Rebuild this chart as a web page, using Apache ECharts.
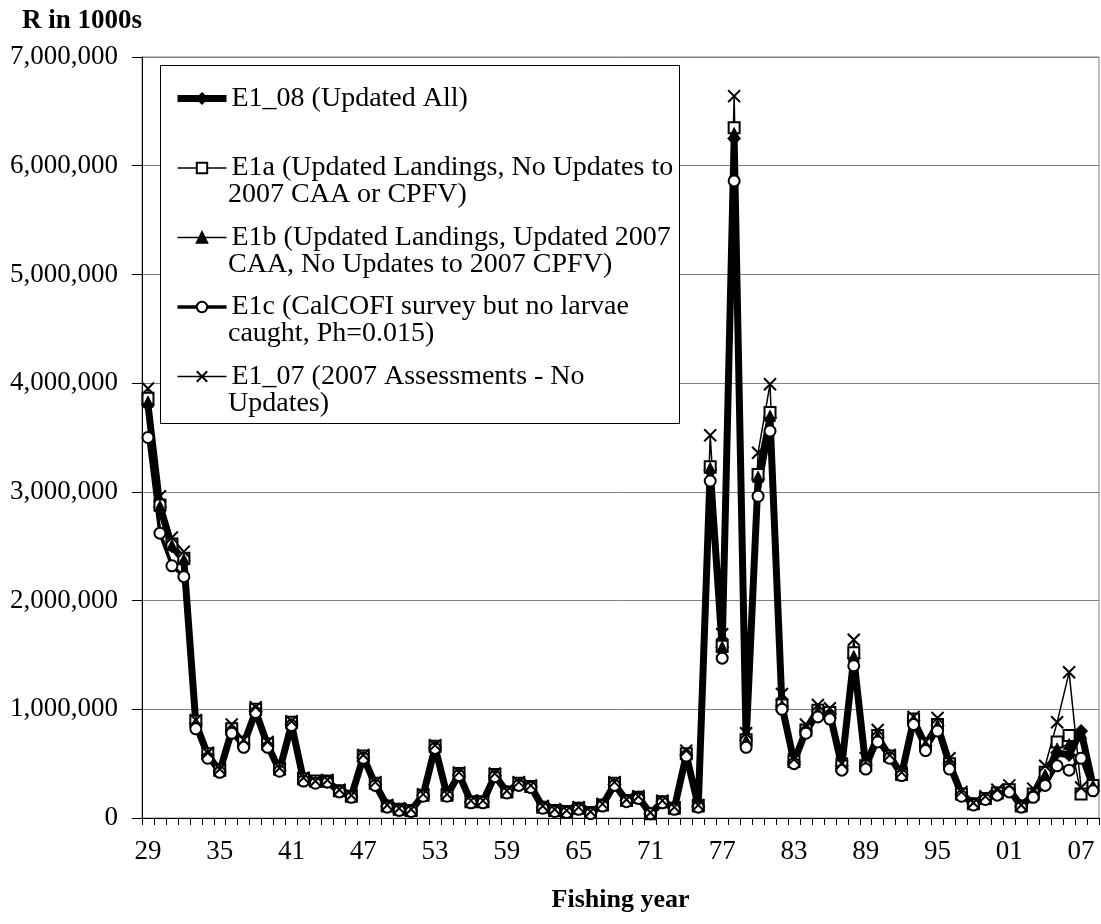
<!DOCTYPE html>
<html>
<head>
<meta charset="utf-8">
<title>R in 1000s</title>
<script src="https://cdn.jsdelivr.net/npm/echarts@6/dist/echarts.min.js"></script>
<style>
  html, body { margin: 0; padding: 0; background: #fff; }
  #chart { width: 1101px; height: 924px; }
</style>
</head>
<body>
<div id="chart"></div>
<script>
// fishing years 1929 - 2008 (axis labels are 2 digit years)
var years = ['29','30','31','32','33','34','35','36','37','38',
             '39','40','41','42','43','44','45','46','47','48',
             '49','50','51','52','53','54','55','56','57','58',
             '59','60','61','62','63','64','65','66','67','68',
             '69','70','71','72','73','74','75','76','77','78',
             '79','80','81','82','83','84','85','86','87','88',
             '89','90','91','92','93','94','95','96','97','98',
             '99','00','01','02','03','04','05','06','07','08'];

// recruitment, R in 1000s
var e1_08 = [3800000,2860000,2500000,2370000,870000,580000,430000,800000,680000,980000,
             670000,440000,860000,350000,330000,330000,250000,200000,560000,310000,
             110000,80000,70000,210000,650000,210000,400000,150000,150000,390000,
             240000,310000,290000,100000,70000,60000,90000,50000,120000,310000,
             160000,190000,40000,150000,90000,580000,110000,3200000,1570000,6250000,
             710000,3120000,3680000,1030000,520000,800000,980000,960000,480000,1470000,
             480000,740000,570000,400000,900000,670000,850000,500000,220000,130000,
             180000,230000,260000,110000,210000,380000,600000,580000,800000,300000];

var e1a = [3860000,2880000,2520000,2390000,890000,590000,440000,820000,700000,1000000,
           680000,450000,880000,360000,340000,340000,250000,200000,570000,320000,
           110000,80000,70000,210000,660000,210000,410000,150000,150000,400000,
           240000,320000,290000,100000,70000,60000,90000,50000,120000,320000,
           160000,190000,40000,150000,90000,590000,110000,3230000,1580000,6350000,
           720000,3160000,3730000,1040000,520000,810000,990000,970000,480000,1520000,
           480000,760000,570000,400000,910000,680000,860000,500000,220000,130000,
           180000,230000,260000,110000,220000,420000,700000,760000,220000,300000];

var e1b = [3830000,2870000,2510000,2380000,880000,585000,435000,810000,690000,990000,
           675000,445000,870000,355000,335000,335000,250000,200000,565000,315000,
           110000,80000,70000,210000,655000,210000,405000,150000,150000,395000,
           240000,315000,290000,100000,70000,60000,90000,50000,120000,315000,
           160000,190000,40000,150000,90000,585000,110000,3220000,1575000,6300000,
           715000,3140000,3700000,1035000,520000,805000,985000,965000,480000,1490000,
           480000,750000,570000,400000,905000,675000,855000,500000,220000,130000,
           180000,230000,260000,110000,210000,400000,640000,680000,780000,300000];

var e1c = [3500000,2620000,2320000,2220000,820000,550000,420000,780000,650000,970000,
           650000,430000,850000,340000,320000,330000,240000,190000,550000,300000,
           100000,70000,60000,200000,640000,200000,390000,140000,140000,380000,
           230000,300000,280000,90000,60000,50000,80000,40000,110000,300000,
           150000,180000,40000,140000,80000,570000,100000,3100000,1470000,5860000,
           650000,2960000,3560000,1000000,500000,780000,930000,910000,440000,1400000,
           450000,700000,550000,390000,860000,620000,800000,450000,200000,120000,
           170000,210000,240000,100000,190000,300000,480000,440000,550000,250000];

var e1_07 = [3950000,2960000,2580000,2450000,900000,600000,450000,860000,720000,1020000,
             700000,460000,890000,370000,340000,350000,260000,210000,580000,330000,
             120000,90000,80000,220000,670000,220000,420000,160000,160000,410000,
             250000,330000,300000,110000,80000,70000,100000,60000,130000,330000,
             170000,200000,50000,160000,100000,620000,120000,3520000,1690000,6640000,
             780000,3360000,3990000,1140000,540000,860000,1040000,1010000,500000,1640000,
             550000,810000,580000,420000,930000,700000,920000,550000,240000,140000,
             200000,260000,300000,120000,270000,480000,880000,1340000,280000,null];

var names = ['E1_08 (Updated All)',
             'E1a (Updated Landings, No Updates to',
             'E1b (Updated Landings, Updated 2007',
             'E1c (CalCOFI survey but no larvae',
             'E1_07 (2007 Assessments - No'];
// second lines of the legend entries
var legendLine2 = ['2007 CAA or CPFV)', 'CAA, No Updates to 2007 CPFV)',
                   'caught, Ph=0.015)', 'Updates)'];

var FONT = '"Liberation Serif", "Times New Roman", serif';
var xMark = 'path://M0 0L10 10M10 0L0 10';

function commas(v) {
  return String(v).replace(/\B(?=(\d{3})+(?!\d))/g, ',');
}

var chart = echarts.init(document.getElementById('chart'));

var graphics = [{
  type: 'rect', z: 5,
  shape: { x: 160.5, y: 65.5, width: 519, height: 358 },
  style: { fill: '#fff', stroke: '#000', lineWidth: 1 }
}];
var line2Y = [195, 264.5, 334, 403.5];
legendLine2.forEach(function (t, i) {
  graphics.push({
    type: 'text', z: 6, x: 228, y: line2Y[i],
    style: { text: t, font: '28px ' + FONT, fill: '#000', verticalAlign: 'middle' }
  });
});

chart.setOption({
  animation: false,
  backgroundColor: '#fff',
  title: {
    text: 'R in 1000s',
    left: 17, top: 3,
    textStyle: { fontFamily: FONT, fontSize: 27, fontWeight: 'bold', color: '#000' }
  },
  grid: { left: 142, right: 2, top: 57, bottom: 106, show: true, borderColor: '#808080', borderWidth: 1 },
  legend: {
    data: names, orient: 'vertical', left: 169, top: 77.5, z: 7,
    itemWidth: 49, itemHeight: 13, itemGap: 37.5,
    lineStyle: { width: 'inherit' },
    textStyle: { fontFamily: FONT, fontSize: 28, color: '#000', lineHeight: 32 }
  },
  graphic: graphics,
  xAxis: {
    type: 'category',
    data: years,
    boundaryGap: true,
    name: 'Fishing year',
    nameLocation: 'middle',
    nameGap: 69,
    nameTextStyle: { fontFamily: FONT, fontSize: 26, fontWeight: 'bold', color: '#000' },
    axisLine: { lineStyle: { color: '#000', width: 1 } },
    axisTick: { show: true, interval: 0, length: 7, lineStyle: { color: '#000' } },
    axisLabel: { interval: 5, margin: 20, fontFamily: FONT, fontSize: 27, color: '#000' },
    splitLine: { show: false }
  },
  yAxis: {
    type: 'value',
    min: 0, max: 7000000, interval: 1000000,
    axisLine: { show: true, lineStyle: { color: '#000', width: 1 } },
    axisTick: { show: true, length: 10, lineStyle: { color: '#000' } },
    axisLabel: { margin: 24, fontFamily: FONT, fontSize: 27, color: '#000', formatter: commas },
    splitLine: { lineStyle: { color: '#808080', width: 1 } }
  },
  series: [
    {
      name: names[0], type: 'line', data: e1_08, showAllSymbol: true,
      symbol: 'diamond', symbolSize: 13,
      lineStyle: { color: '#000', width: 7 },
      itemStyle: { color: '#000', borderColor: '#000', borderWidth: 1 },
      emphasis: { disabled: true }
    },
    {
      name: names[1], type: 'line', data: e1a, showAllSymbol: true,
      symbol: 'emptyRect', symbolSize: 11,
      lineStyle: { color: '#000', width: 1.5 },
      itemStyle: { color: '#000', borderColor: '#000', borderWidth: 1.5 },
      emphasis: { disabled: true }
    },
    {
      name: names[2], type: 'line', data: e1b, showAllSymbol: true,
      symbol: 'triangle', symbolSize: 11,
      lineStyle: { color: '#000', width: 1.5 },
      itemStyle: { color: '#000', borderColor: '#000', borderWidth: 1 },
      emphasis: { disabled: true }
    },
    {
      name: names[3], type: 'line', data: e1c, showAllSymbol: true,
      symbol: 'emptyCircle', symbolSize: 11,
      lineStyle: { color: '#000', width: 3.5 },
      itemStyle: { color: '#000', borderColor: '#000', borderWidth: 2 },
      emphasis: { disabled: true }
    },
    {
      name: names[4], type: 'line', data: e1_07, showAllSymbol: true,
      symbol: xMark, symbolSize: 12,
      lineStyle: { color: '#000', width: 1.5 },
      itemStyle: { color: '#000', borderColor: '#000', borderWidth: 2 },
      emphasis: { disabled: true }
    }
  ]
});
</script>
</body>
</html>
